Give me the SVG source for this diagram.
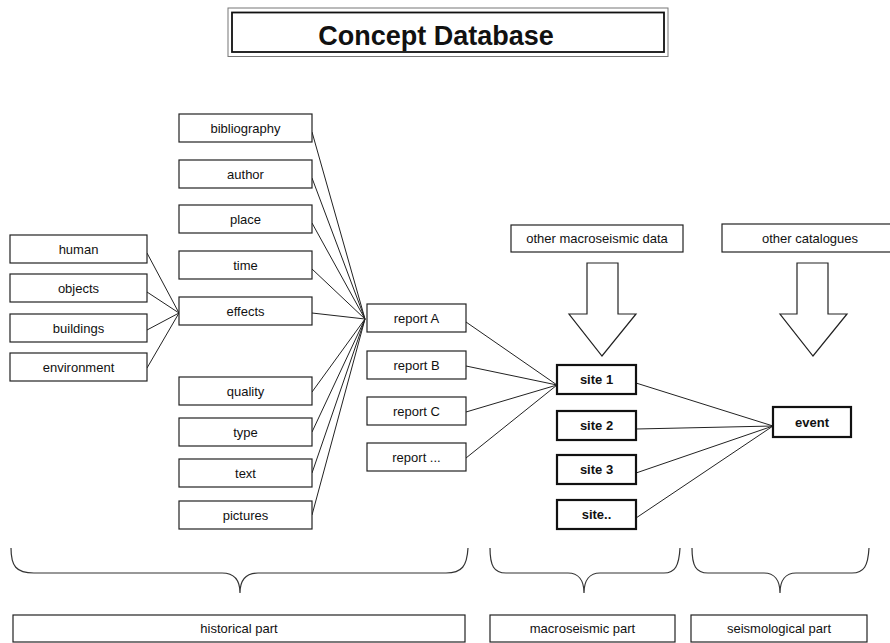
<svg xmlns="http://www.w3.org/2000/svg" width="890" height="643" viewBox="0 0 890 643">
<style>
.box{fill:#fff;stroke:#222;stroke-width:1.2}
.bold{fill:#fff;stroke:#111;stroke-width:2.2}
.t{font-family:"Liberation Sans",Arial,sans-serif;font-size:13px;fill:#111;text-anchor:middle}
.tb{font-family:"Liberation Sans",Arial,sans-serif;font-size:13px;font-weight:bold;fill:#111;text-anchor:middle}
.ln{stroke:#222;stroke-width:1;fill:none}
.br{stroke:#333;stroke-width:1.2;fill:none}
.arr{fill:#fff;stroke:#222;stroke-width:1.2;stroke-linejoin:miter}
.thin{stroke:#777;stroke-width:1;fill:none}
.thick{stroke:#111;stroke-width:1.8;fill:none}
</style>
<rect width="890" height="643" fill="#fff"/>
<g id="title">
<rect class="thin" x="228" y="8" width="440" height="48.5"/>
<rect class="thick" x="232" y="12.5" width="432" height="39.5"/>
<text x="436" y="45" font-family="Liberation Sans,Arial,sans-serif" font-size="27" font-weight="bold" text-anchor="middle" fill="#111">Concept Database</text>
</g>
<g id="connectors">
<line class="ln" x1="147" y1="253" x2="179" y2="313"/>
<line class="ln" x1="147" y1="292" x2="179" y2="313"/>
<line class="ln" x1="147" y1="330" x2="179" y2="313"/>
<line class="ln" x1="147" y1="368" x2="179" y2="313"/>
<line class="ln" x1="312" y1="132" x2="365" y2="319"/>
<line class="ln" x1="312" y1="178" x2="365" y2="319"/>
<line class="ln" x1="312" y1="223" x2="365" y2="319"/>
<line class="ln" x1="312" y1="269" x2="365" y2="319"/>
<line class="ln" x1="312" y1="313" x2="365" y2="319"/>
<line class="ln" x1="312" y1="392" x2="365" y2="319"/>
<line class="ln" x1="312" y1="432" x2="365" y2="319"/>
<line class="ln" x1="312" y1="473" x2="365" y2="319"/>
<line class="ln" x1="312" y1="515" x2="365" y2="319"/>
<line class="ln" x1="466" y1="322" x2="557" y2="385"/>
<line class="ln" x1="466" y1="366" x2="557" y2="385"/>
<line class="ln" x1="466" y1="412" x2="557" y2="385"/>
<line class="ln" x1="466" y1="458" x2="557" y2="385"/>
<line class="ln" x1="636" y1="383" x2="773" y2="426"/>
<line class="ln" x1="636" y1="429" x2="773" y2="426"/>
<line class="ln" x1="636" y1="473" x2="773" y2="426"/>
<line class="ln" x1="636" y1="518" x2="773" y2="426"/>
</g>
<g id="human"><rect class="box" x="10" y="235" width="137" height="28"/><text class="t" x="78.5" y="253.5">human</text></g>
<g id="objects"><rect class="box" x="10" y="274" width="137" height="28"/><text class="t" x="78.5" y="292.5">objects</text></g>
<g id="buildings"><rect class="box" x="10" y="314" width="137" height="28"/><text class="t" x="78.5" y="332.5">buildings</text></g>
<g id="environment"><rect class="box" x="10" y="353" width="137" height="28"/><text class="t" x="78.5" y="371.5">environment</text></g>
<g id="bibliography"><rect class="box" x="179" y="114" width="133" height="28"/><text class="t" x="245.5" y="132.5">bibliography</text></g>
<g id="author"><rect class="box" x="179" y="160" width="133" height="28"/><text class="t" x="245.5" y="178.5">author</text></g>
<g id="place"><rect class="box" x="179" y="205" width="133" height="28"/><text class="t" x="245.5" y="223.5">place</text></g>
<g id="time"><rect class="box" x="179" y="251" width="133" height="28"/><text class="t" x="245.5" y="269.5">time</text></g>
<g id="effects"><rect class="box" x="179" y="297" width="133" height="28"/><text class="t" x="245.5" y="315.5">effects</text></g>
<g id="quality"><rect class="box" x="179" y="377" width="133" height="28"/><text class="t" x="245.5" y="395.5">quality</text></g>
<g id="type"><rect class="box" x="179" y="418" width="133" height="28"/><text class="t" x="245.5" y="436.5">type</text></g>
<g id="text"><rect class="box" x="179" y="459" width="133" height="28"/><text class="t" x="245.5" y="477.5">text</text></g>
<g id="pictures"><rect class="box" x="179" y="501" width="133" height="28"/><text class="t" x="245.5" y="519.5">pictures</text></g>
<g id="reportA"><rect class="box" x="367" y="304" width="99" height="28"/><text class="t" x="416.5" y="322.5">report A</text></g>
<g id="reportB"><rect class="box" x="367" y="351" width="99" height="28"/><text class="t" x="416.5" y="369.5">report B</text></g>
<g id="reportC"><rect class="box" x="367" y="397" width="99" height="28"/><text class="t" x="416.5" y="415.5">report C</text></g>
<g id="reportD"><rect class="box" x="367" y="443" width="99" height="28"/><text class="t" x="416.5" y="461.5">report ...</text></g>
<g id="site1"><rect class="bold" x="557" y="365" width="79" height="29"/><text class="tb" x="596.5" y="384">site 1</text></g>
<g id="site2"><rect class="bold" x="557" y="411" width="79" height="29"/><text class="tb" x="596.5" y="430">site 2</text></g>
<g id="site3"><rect class="bold" x="557" y="455" width="79" height="29"/><text class="tb" x="596.5" y="474">site 3</text></g>
<g id="site4"><rect class="bold" x="557" y="500" width="79" height="29"/><text class="tb" x="596.5" y="519">site..</text></g>
<g id="event"><rect class="bold" x="773" y="407" width="78" height="30"/><text class="tb" x="812" y="426.5">event</text></g>
<g id="otherMacro"><rect class="box" x="511" y="225" width="172" height="27"/><text class="t" x="597" y="243">other macroseismic data</text></g>
<g id="otherCat"><rect class="box" x="722" y="224" width="180" height="28"/><text class="t" x="810" y="242.5">other catalogues</text></g>
<g id="arrow1"><polygon class="arr" points="587,263 618,263 618,314 636,314 602,356 569,314 587,314"/></g>
<g id="arrow2"><polygon class="arr" points="797,263 828,263 828,314 847,314 813,356 780,314 797,314"/></g>
<g id="braces">
<path class="br" d="M11 548 C11 566 16 573 34 573 L222 573 C234 573 240 580 240 593 C240 580 246 573 258 573 L446 573 C462 573 467 566 468 548"/>
<path class="br" d="M490 548 C490 566 494 573 506 573 L568 573 C578 573 584 580 584 593 C584 580 590 573 600 573 L664 573 C675 573 679 566 680 548"/>
<path class="br" d="M692 548 C692 566 696 573 708 573 L764 573 C774 573 780 580 780 593 C780 580 786 573 796 573 L852 573 C864 573 868 566 869 548"/>
</g>
<g id="historical"><rect class="box" x="13" y="615" width="452" height="27"/><text class="t" x="239" y="633">historical part</text></g>
<g id="macroseismic"><rect class="box" x="490" y="615" width="185" height="27"/><text class="t" x="582.5" y="633">macroseismic part</text></g>
<g id="seismological"><rect class="box" x="691" y="615" width="176" height="27"/><text class="t" x="779" y="633">seismological part</text></g>
</svg>
